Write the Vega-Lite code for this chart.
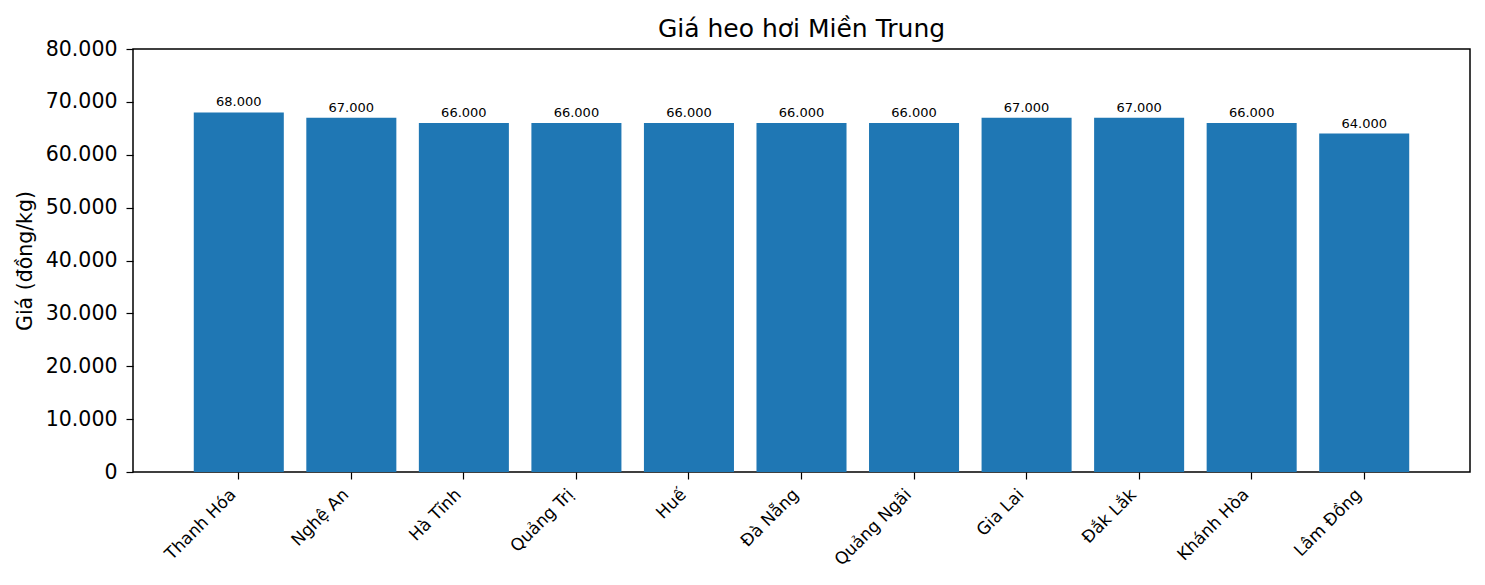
{
  "$schema": "https://vega.github.io/schema/vega-lite/v6.json",
  "description": "Giá heo hơi Miền Trung",
  "autosize": "none",
  "width": 1337,
  "height": 423,
  "padding": {"left": 133, "top": 49, "right": 15, "bottom": 113},
  "title": {
    "text": "Giá heo hơi Miền Trung",
    "fontSize": 25,
    "fontWeight": "normal",
    "font": "DejaVu Sans",
    "color": "black",
    "anchor": "middle",
    "offset": -3
  },
  "data": {
    "values": [
      {"tinh": "Thanh Hóa", "gia": 68000},
      {"tinh": "Nghệ An", "gia": 67000},
      {"tinh": "Hà Tĩnh", "gia": 66000},
      {"tinh": "Quảng Trị", "gia": 66000},
      {"tinh": "Huế", "gia": 66000},
      {"tinh": "Đà Nẵng", "gia": 66000},
      {"tinh": "Quảng Ngãi", "gia": 66000},
      {"tinh": "Gia Lai", "gia": 67000},
      {"tinh": "Đắk Lắk", "gia": 67000},
      {"tinh": "Khánh Hòa", "gia": 66000},
      {"tinh": "Lâm Đồng", "gia": 64000}
    ]
  },
  "encoding": {
    "x": {
      "field": "tinh",
      "type": "nominal",
      "sort": null,
      "title": null,
      "scale": {"paddingInner": 0.2, "paddingOuter": 0.54},
      "axis": {
        "labelAngle": -45,
        "labelAlign": "right",
        "labelBaseline": "top",
        "labelFontSize": 17,
        "labelPadding": 7,
        "labelOffset": -11,
        "tickSize": 7,
        "domain": false
      }
    },
    "y": {
      "field": "gia",
      "type": "quantitative",
      "title": "Giá (đồng/kg)",
      "scale": {"domain": [0, 80000], "nice": false},
      "axis": {
        "format": ",d",
        "values": [0, 10000, 20000, 30000, 40000, 50000, 60000, 70000, 80000],
        "labelFontSize": 20.5,
        "titleFontSize": 20.5,
        "titleFontWeight": "normal",
        "titlePadding": 10,
        "labelPadding": 9,
        "tickSize": 7,
        "grid": false,
        "domain": false
      }
    }
  },
  "layer": [
    {
      "mark": {"type": "bar", "color": "#1f77b4"}
    },
    {
      "mark": {"type": "text", "baseline": "bottom", "dy": -3, "fontSize": 13, "color": "black"},
      "encoding": {
        "text": {"field": "gia", "type": "quantitative", "format": ",d"}
      }
    }
  ],
  "config": {
    "locale": {
      "number": {"decimal": ",", "thousands": ".", "grouping": [3], "currency": ["", " đ"]}
    },
    "font": "DejaVu Sans",
    "background": "white",
    "view": {"stroke": "black", "strokeWidth": 1.5},
    "axis": {
      "labelFont": "DejaVu Sans",
      "titleFont": "DejaVu Sans",
      "labelColor": "black",
      "titleColor": "black",
      "tickColor": "black",
      "tickWidth": 1.2
    }
  }
}
